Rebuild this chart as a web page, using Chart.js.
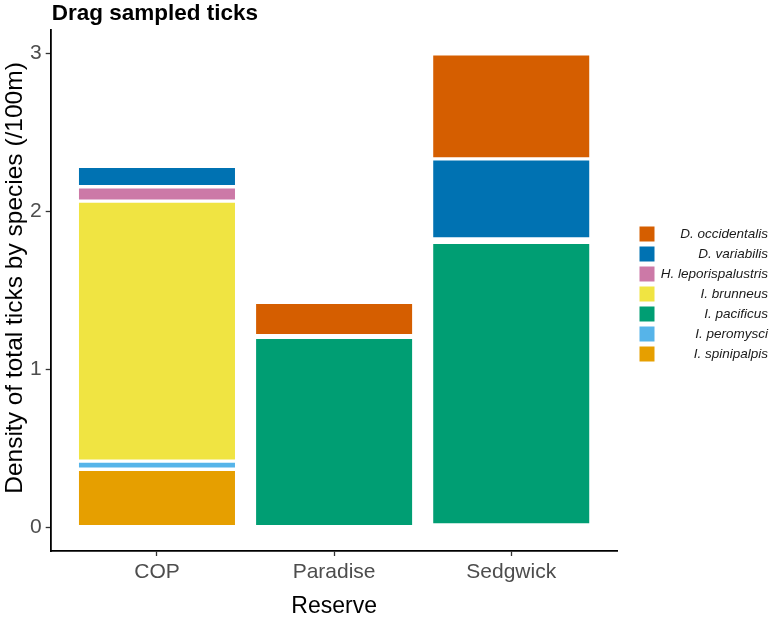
<!DOCTYPE html>
<html><head><meta charset="utf-8">
<script src="https://cdn.jsdelivr.net/npm/chart.js@4.4.1/dist/chart.umd.min.js"></script>
<style>html,body{margin:0;padding:0;background:#fff;}#wrap{width:777px;height:621px;position:relative;}</style>
</head><body><div id="wrap"><canvas id="c" width="777" height="621"></canvas></div>
<script>
const titleText = 'Drag sampled ticks';
const xTitle = 'Reserve';
const yTitle = 'Density of total ticks by species (/100m)';
const categories = ['COP', 'Paradise', 'Sedgwick'];
const species = ['I. spinipalpis', 'I. peromysci', 'I. pacificus', 'I. brunneus', 'H. leporispalustris', 'D. variabilis', 'D. occidentalis'];
const speciesColors = ['#E69F00', '#56B4E9', '#009E73', '#F0E442', '#CC79A7', '#0072B2', '#D55E00'];
const spinipalpis = [0.368, 0, 0.015];
const peromysci = [0.051, 0, 0];
const pacificus = [0, 1.203, 1.791];
const brunneus = [1.647, 0, 0.021];
const leporispalustris = [0.091, 0, 0];
const variabilis = [0.130, 0.010, 0.507];
const occidentalis = [0, 0.212, 0.666];
const yTicks = [0, 1, 2, 3];

const seriesValues = [spinipalpis, peromysci, pacificus, brunneus, leporispalustris, variabilis, occidentalis];
const FONT = '"Liberation Sans", Arial, Helvetica, sans-serif';

const datasets = species.map((name, i) => ({
  label: name,
  data: seriesValues[i].map((v, j) => ({x: j + 1, y: v})),
  backgroundColor: speciesColors[i],
  borderColor: '#ffffff',
  borderWidth: 1.7,
  borderSkipped: false,
  barPercentage: 0.9,
  categoryPercentage: 1.0
}));

const deco = {
  id: 'deco',
  afterDraw(chart) {
    const ctx = chart.ctx, ca = chart.chartArea;
    ctx.save();
    ctx.fillStyle = '#000';
    ctx.textAlign = 'left';
    ctx.textBaseline = 'alphabetic';
    ctx.font = 'bold 22.5px ' + FONT;
    ctx.fillText(titleText, ca.left + 1, 19.5);
    // axis titles
    ctx.font = '23px ' + FONT;
    ctx.textAlign = 'center';
    ctx.fillText(xTitle, (ca.left + ca.right) / 2, 613);
    ctx.save();
    ctx.font = '24.5px ' + FONT;
    ctx.translate(22, 278);
    ctx.rotate(-Math.PI / 2);
    ctx.fillText(yTitle, 0, 0);
    ctx.restore();
    // legend
    ctx.font = 'italic 13.5px ' + FONT;
    ctx.textAlign = 'right';
    ctx.textBaseline = 'middle';
    const n = species.length;
    for (let k = 0; k < n; k++) {
      const i = n - 1 - k;
      const cy = 233.5 + k * 20;
      ctx.fillStyle = '#ffffff';
      ctx.fillRect(638.5, cy - 8, 17, 17);
      ctx.fillStyle = speciesColors[i];
      ctx.fillRect(639.5, cy - 7, 15, 15);
      ctx.fillStyle = '#1a1a1a';
      ctx.fillText(species[i], 768, cy + 1);
    }
    ctx.restore();
  }
};

new Chart(document.getElementById('c'), {
  type: 'bar',
  data: {datasets},
  options: {
    responsive: false,
    animation: false,
    layout: {padding: {left: 0, right: 159.5, top: 30, bottom: 0}},
    plugins: {legend: {display: false}, tooltip: {enabled: false}, title: {display: false}},
    scales: {
      x: {
        type: 'linear',
        stacked: true,
        offset: false,
        min: 0.4, max: 3.6,
        afterBuildTicks: s => { s.ticks = categories.map((c, i) => ({value: i + 1})); },
        afterFit: s => { s.height = 70; },
        ticks: {
          callback: v => categories[Math.round(v) - 1] || '',
          color: '#4D4D4D',
          font: {family: FONT, size: 21},
          padding: 4,
          autoSkip: false,
          maxRotation: 0
        },
        grid: {display: true, offset: false, drawOnChartArea: false, drawTicks: true, tickLength: 5, tickWidth: 1.3, color: '#333333'},
        border: {display: true, color: '#000000', width: 1.8}
      },
      y: {
        type: 'linear',
        stacked: true,
        min: -0.15, max: 3.15,
        afterBuildTicks: s => { s.ticks = yTicks.map(v => ({value: v})); },
        afterFit: s => { s.width = 50.7; },
        ticks: {
          color: '#4D4D4D',
          font: {family: FONT, size: 21},
          padding: 4
        },
        grid: {display: true, drawOnChartArea: false, drawTicks: true, tickLength: 5, tickWidth: 1.3, color: '#333333'},
        border: {display: true, color: '#000000', width: 1.8}
      }
    }
  },
  plugins: [deco]
});
</script></body></html>
